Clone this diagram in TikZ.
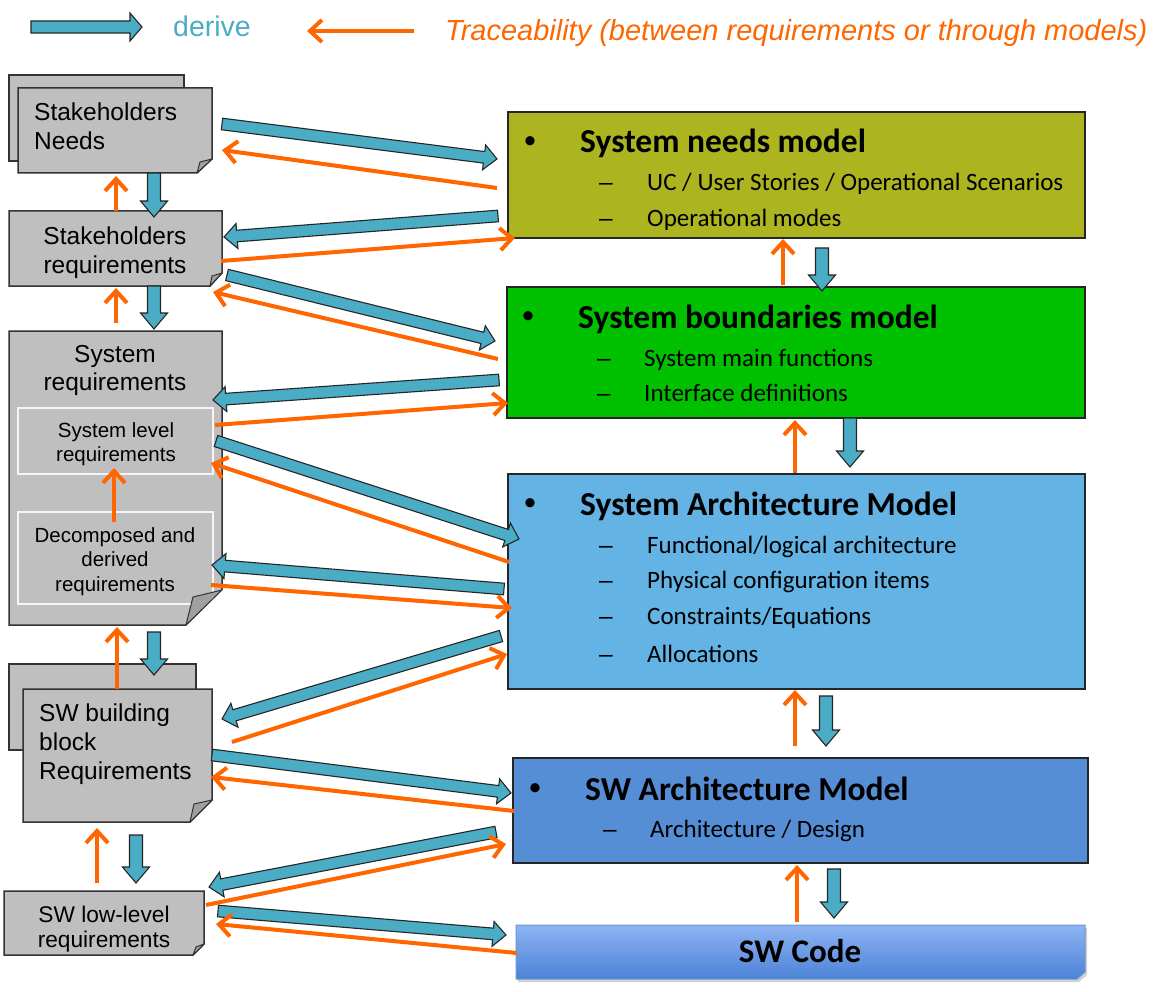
\documentclass[tikz,border=0pt]{standalone}
\usepackage{fontspec}
\setmainfont{Liberation Sans}
\newfontfamily\calfont{Carlito}
\usetikzlibrary{arrows.meta,shadows}

\definecolor{derivefill}{RGB}{75,172,198}
\definecolor{traceor}{RGB}{255,102,0}
\definecolor{boxgray}{RGB}{191,191,191}
\definecolor{foldgray}{RGB}{160,160,160}
\definecolor{olivebox}{RGB}{172,181,32}
\definecolor{greenbox}{RGB}{0,192,0}
\definecolor{sysarch}{RGB}{99,179,228}
\definecolor{swarch}{RGB}{85,142,213}
\definecolor{codetop}{RGB}{142,180,243}
\definecolor{codebot}{RGB}{76,130,214}
\definecolor{codeedge}{RGB}{110,150,215}

\tikzset{
  derivearrow/.style={fill=derivefill, draw=black!85, line width=1.1pt, line join=miter},
  trace/.style={draw=traceor, line width=4pt, -{Straight Barb[length=12pt,width=22pt]}},
  graybox/.style={fill=boxgray, draw=black!80, line width=1.5pt, line join=miter},
  innerbox/.style={fill=boxgray, draw=white!96!black, line width=1.5pt},
  foldtri/.style={fill=foldgray, draw=black!80, line width=1pt, line join=round},
  modelbox/.style={draw=black!85, line width=1.5pt, anchor=north west, inner sep=0pt, outer sep=0pt},
  ltxt/.style={inner sep=0pt, font=\fontsize{24.5}{28.5}\selectfont, align=center, anchor=north},
  stxt/.style={inner sep=0pt, font=\fontsize{20.5}{24.5}\selectfont, align=center, anchor=north},
  mtitle/.style={inner sep=0pt, anchor=base west, font=\calfont\bfseries\fontsize{33.5}{36}\selectfont},
  mitem/.style={inner sep=0pt, anchor=base west, font=\calfont\fontsize{25}{28}\selectfont},
  mdash/.style={inner sep=0pt, anchor=base west, font=\fontsize{24.5}{28}\selectfont},
  mbul/.style={inner sep=0pt, anchor=center, font=\calfont\fontsize{26}{28}\selectfont},
}

\newcommand\blockarrow[5]{%
  \path (#1); \pgfgetlastxy{\baXa}{\baYa}%
  \path (#2); \pgfgetlastxy{\baXb}{\baYb}%
  \pgfmathsetmacro\baAng{atan2((\baYb)-(\baYa),(\baXb)-(\baXa))}%
  \pgfmathsetmacro\baLen{veclen((\baXb)-(\baXa),(\baYb)-(\baYa))}%
  \pgfmathsetmacro\baBase{\baLen-#5}%
  \draw[derivearrow,shift={(\baXa,\baYa)},rotate=\baAng,x=1pt,y=1pt]
    (0,-#3) -- (\baBase,-#3) -- (\baBase,-#4) -- (\baLen,0) -- (\baBase,#4) -- (\baBase,#3) -- (0,#3) -- cycle;
}
\newcommand\derivediag[3]{\coordinate (#1a) at (#2); \coordinate (#1b) at (#3); \blockarrow{#1a}{#1b}{5.8}{12.5}{13}}
\newcommand\derivevert[3]{\coordinate (#1a) at (#2); \coordinate (#1b) at (#3); \blockarrow{#1a}{#1b}{6.5}{13.5}{16}}
\newcommand\tracearrow[3]{\coordinate (#1a) at (#2); \coordinate (#1b) at (#3); \draw[trace] (#1a) -- (#1b);}

\begin{document}
\begin{tikzpicture}[x=1pt,y=-1pt]
\useasboundingbox (0,0) rectangle (1158,992);
\fill[white] (0,0) rectangle (1158,992);

% ---------- legend ----------
\coordinate (lgA) at (31,27); \coordinate (lgB) at (142,27);
\blockarrow{lgA}{lgB}{6}{14}{12}
\node[anchor=base west, inner sep=0pt, text=derivefill, font=\fontsize{28.5}{32}\selectfont] (lgderive) at (173,37) {derive};
\tracearrow{lgt}{414,31}{307,31}
\node[anchor=base west, inner sep=0pt, text=traceor, font=\itshape\fontsize{29}{32}\selectfont] (lgtrace) at (445,41) {Traceability (between requirements or through models)};

% ---------- left column ----------
% Stakeholders Needs
\draw[graybox] (9,75) rectangle (184,161);
\draw[graybox] (18,88) -- (212,88) -- (212,159) -- (197,173) -- (18,173) -- cycle;
\draw[foldtri] (197,173) -- (212,159) -- (200,162) -- cycle;
\node[ltxt, anchor=north west, align=left] (sneeds) at (34,103) {Stakeholders\\Needs};

% Stakeholders requirements
\draw[graybox] (9,211) -- (222,211) -- (222,273) -- (210,286) -- (9,286) -- cycle;
\draw[foldtri] (210,286) -- (222,273) -- (212,276) -- cycle;
\node[ltxt] (sreq) at (115,227) {Stakeholders\\requirements};

% System requirements
\draw[graybox] (9,331) -- (222,331) -- (222,590) -- (186,625) -- (9,625) -- cycle;
\node[ltxt] (sysreq) at (115,345) {System\\requirements};
\draw[innerbox] (18,408) rectangle (213,474);
\node[stxt] (slreq) at (116,422) {System level\\requirements};
\draw[innerbox] (18,512) rectangle (213,604);
\node[stxt] (ddreq) at (115,527) {Decomposed and\\derived\\requirements};
\fill[white] (186.5,625.8) -- (223,625.8) -- (223,589.5) -- cycle;
\draw[foldtri] (186,625) -- (222,590) -- (193,597) -- cycle;

% SW building block
\draw[graybox] (9,664) rectangle (196,750);
\draw[graybox] (23,689) -- (212,689) -- (212,800) -- (190,822) -- (23,822) -- cycle;
\draw[foldtri] (190,822) -- (212,800) -- (194,804) -- cycle;
\node[ltxt, anchor=north west, align=left, font=\fontsize{24.5}{29}\selectfont] (swbb) at (39,704) {SW building\\block\\Requirements};

% SW low-level
\draw[graybox] (4,891) -- (204,891) -- (204,944) -- (193,955) -- (4,955) -- cycle;
\draw[foldtri] (193,955) -- (204,944) -- (196,947) -- cycle;
\node[ltxt, font=\fontsize{22.7}{25}\selectfont] (swll) at (104,905.5) {SW low-level\\requirements};

% ---------- right column ----------
\node[modelbox, fill=olivebox, minimum width=577pt, minimum height=126pt] (needs) at (508,112) {};
\node[mbul] (needsb) at (530,143) {•};
\node[mtitle] (needst) at (580,153) {System needs model};
\node[mdash] (needsd1) at (599,191) {–};
\node[mitem] (needsi1) at (647,191) {UC / User Stories / Operational Scenarios};
\node[mdash] (needsd2) at (599,226) {–};
\node[mitem] (needsi2) at (647,226) {Operational modes};

\node[modelbox, fill=greenbox, minimum width=578pt, minimum height=131pt] (bound) at (507,287) {};
\node[mbul] (boundb) at (528,318) {•};
\node[mtitle] (boundt) at (578,328) {System boundaries model};
\node[mdash] (boundd1) at (597,366) {–};
\node[mitem] (boundi1) at (644,366) {System main functions};
\node[mdash] (boundd2) at (597,401) {–};
\node[mitem] (boundi2) at (644,401) {Interface definitions};

\node[modelbox, fill=sysarch, minimum width=577pt, minimum height=215pt] (arch) at (508,474) {};
\node[mbul] (archb) at (530,505) {•};
\node[mtitle] (archt) at (580,515) {System Architecture Model};
\node[mdash] (archd1) at (599,553) {–};
\node[mitem] (archi1) at (647,553) {Functional/logical architecture};
\node[mdash] (archd2) at (599,588) {–};
\node[mitem] (archi2) at (647,588) {Physical configuration items};
\node[mdash] (archd3) at (599,624) {–};
\node[mitem] (archi3) at (647,624) {Constraints/Equations};
\node[mdash] (archd4) at (599,662) {–};
\node[mitem] (archi4) at (647,662) {Allocations};

\node[modelbox, fill=swarch, minimum width=575pt, minimum height=105pt] (swa) at (513,758) {};
\node[mbul] (swab) at (535,790) {•};
\node[mtitle] (swat) at (585,800) {SW Architecture Model};
\node[mdash] (swad1) at (603,837) {–};
\node[mitem] (swai1) at (650,837) {Architecture / Design};

\path[top color=codetop, bottom color=codebot, draw=codeedge, line width=1pt,
      drop shadow={shadow xshift=2pt, shadow yshift=-3pt, opacity=0.35}]
  (516,925) -- (1085,925) -- (1085,972) -- (1077,979) -- (516,979) -- cycle;
\node[inner sep=0pt, anchor=base, font=\calfont\bfseries\fontsize{33}{36}\selectfont] (code) at (800,962) {SW Code};

% ---------- derive arrows ----------
\derivediag{b1}{222,124}{497,159}
\derivediag{b2}{498,216}{224,237}
\derivediag{b3}{227,275}{495,341}
\derivediag{b4}{499,380}{213,400}
\derivediag{b5}{216,441}{519,539}
\derivediag{b6}{504,589}{212,565}
\derivediag{b7}{501,636}{222,719}
\derivediag{b8}{212,755}{511,793}
\derivediag{b9}{496,832}{209,887}
\derivediag{b10}{218,911}{506,935}

\derivevert{v1}{154,173}{154,217}
\derivevert{v2}{154,286}{154,329}
\derivevert{v3}{154,632}{154,675}
\derivevert{v4}{136,835}{136,883}
\derivevert{v5}{822,248}{822,291}
\derivevert{v6}{850,418}{850,467}
\derivevert{v7}{826,696}{826,746}
\derivevert{v8}{834,869}{834,918}

% ---------- traceability arrows ----------
\tracearrow{o1}{497,188}{222,150}
\tracearrow{o2}{221,261}{515,238}
\tracearrow{o3}{498,359}{213,292}
\tracearrow{o4}{215,425}{508,403}
\tracearrow{o5}{509,562}{211,463}
\tracearrow{o6}{211,585}{512,608}
\tracearrow{o7}{232,742}{507,654}
\tracearrow{o8}{514,811}{211,777}
\tracearrow{o9}{206,905}{506,844}
\tracearrow{o10}{517,953}{216,924}

\tracearrow{ov1}{116,211}{116,176}
\tracearrow{ov2}{116,323}{116,288}
\tracearrow{ov3}{114,522}{114,468}
\tracearrow{ov4}{117,689}{117,627}
\tracearrow{ov5}{97,883}{97,828}
\tracearrow{ov6}{783,285}{783,239}
\tracearrow{ov7}{795,473}{795,420}
\tracearrow{ov8}{795,746}{795,690}
\tracearrow{ov9}{797,922}{797,865}
\end{tikzpicture}
\end{document}
